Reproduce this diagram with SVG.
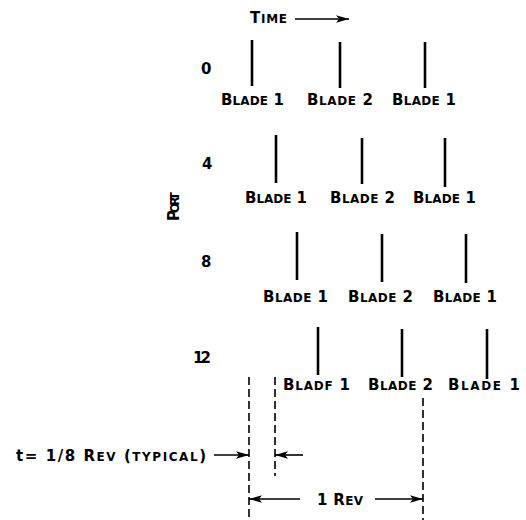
<svg xmlns="http://www.w3.org/2000/svg" width="526" height="520" viewBox="0 0 526 520">
<style>
text{font-family:"DejaVu Sans","Liberation Sans",sans-serif;font-weight:bold;fill:#000;font-size:15px}
.s{font-size:12px}
.bar{stroke:#000;stroke-width:2.6;fill:none}
.dash{stroke:#000;stroke-width:1.6;stroke-dasharray:8 4;fill:none}
.arr{stroke:#000;stroke-width:1.6;fill:none;marker-end:url(#ah)}
</style>
<defs>
<marker id="ah" markerUnits="userSpaceOnUse" markerWidth="14" markerHeight="10" refX="13" refY="5" orient="auto">
<path d="M0,1.2 L13,5 L0,8.8 L3,5 Z" fill="#000"/>
</marker>
</defs>
<rect width="526" height="520" fill="#fff"/>

<g id="time-label">
<text x="250" y="23" textLength="37" lengthAdjust="spacing">T<tspan class="s">IME</tspan></text>
</g>

<g id="port-label">
<text transform="translate(179,221) rotate(-90)" textLength="29" lengthAdjust="spacing">P<tspan class="s">ORT</tspan></text>
</g>

<g id="port-numbers">
<text x="201" y="74">0</text>
<text x="202" y="169">4</text>
<text x="201" y="267">8</text>
<text x="193" y="363" textLength="18" lengthAdjust="spacing">12</text>
</g>

<g id="row-0">
<line class="bar" x1="252" y1="40" x2="252" y2="86"/>
<line class="bar" x1="340" y1="42" x2="340" y2="88"/>
<line class="bar" x1="425" y1="42" x2="425" y2="88"/>
<text x="221" y="105" textLength="63" lengthAdjust="spacing">B<tspan class="s">LADE</tspan> 1</text>
<text x="307" y="105" textLength="66" lengthAdjust="spacing">B<tspan class="s">LADE</tspan> 2</text>
<text x="392" y="105" textLength="64" lengthAdjust="spacing">B<tspan class="s">LADE</tspan> 1</text>
</g>

<g id="row-4">
<line class="bar" x1="276" y1="135" x2="276" y2="183"/>
<line class="bar" x1="362" y1="138" x2="362" y2="184"/>
<line class="bar" x1="445" y1="138" x2="445" y2="187"/>
<text x="245" y="203" textLength="62" lengthAdjust="spacing">B<tspan class="s">LADE</tspan> 1</text>
<text x="330" y="203" textLength="65" lengthAdjust="spacing">B<tspan class="s">LADE</tspan> 2</text>
<text x="413" y="203" textLength="63" lengthAdjust="spacing">B<tspan class="s">LADE</tspan> 1</text>
</g>

<g id="row-8">
<line class="bar" x1="297" y1="232" x2="297" y2="280"/>
<line class="bar" x1="382" y1="234" x2="382" y2="282"/>
<line class="bar" x1="466" y1="234" x2="466" y2="283"/>
<text x="263" y="302" textLength="65" lengthAdjust="spacing">B<tspan class="s">LADE</tspan> 1</text>
<text x="348" y="302" textLength="65" lengthAdjust="spacing">B<tspan class="s">LADE</tspan> 2</text>
<text x="433" y="302" textLength="64" lengthAdjust="spacing">B<tspan class="s">LADE</tspan> 1</text>
</g>

<g id="row-12">
<line class="bar" x1="318" y1="327" x2="318" y2="375"/>
<line class="bar" x1="402" y1="329" x2="402" y2="377"/>
<line class="bar" x1="487" y1="329" x2="487" y2="379"/>
<text x="283" y="390" textLength="67" lengthAdjust="spacing">B<tspan class="s">LADF</tspan> 1</text>
<text x="368" y="390" textLength="65" lengthAdjust="spacing">B<tspan class="s">LADE</tspan> 2</text>
<text x="448" y="390" textLength="72" lengthAdjust="spacing">B<tspan class="s">LADE</tspan> 1</text>
</g>

<g id="annotation-labels">
<text x="16" y="461" textLength="190" lengthAdjust="spacing">t= 1/8 R<tspan class="s">EV</tspan> (<tspan class="s">TYPICAL</tspan>)</text>
<text x="317" y="505" textLength="46" lengthAdjust="spacing">1 R<tspan class="s">EV</tspan></text>
</g>

<g id="connectors">
<line class="arr" x1="295" y1="19" x2="349" y2="19"/>
<line class="dash" x1="249" y1="377" x2="249" y2="520"/>
<line class="dash" x1="275" y1="377" x2="275" y2="476"/>
<line class="dash" x1="423" y1="398" x2="423" y2="520"/>
<line class="arr" x1="214" y1="455" x2="249" y2="455"/>
<line class="arr" x1="303" y1="455" x2="275" y2="455"/>
<line class="arr" x1="300" y1="499" x2="249" y2="499"/>
<line class="arr" x1="375" y1="499" x2="423" y2="499"/>
</g>
</svg>
